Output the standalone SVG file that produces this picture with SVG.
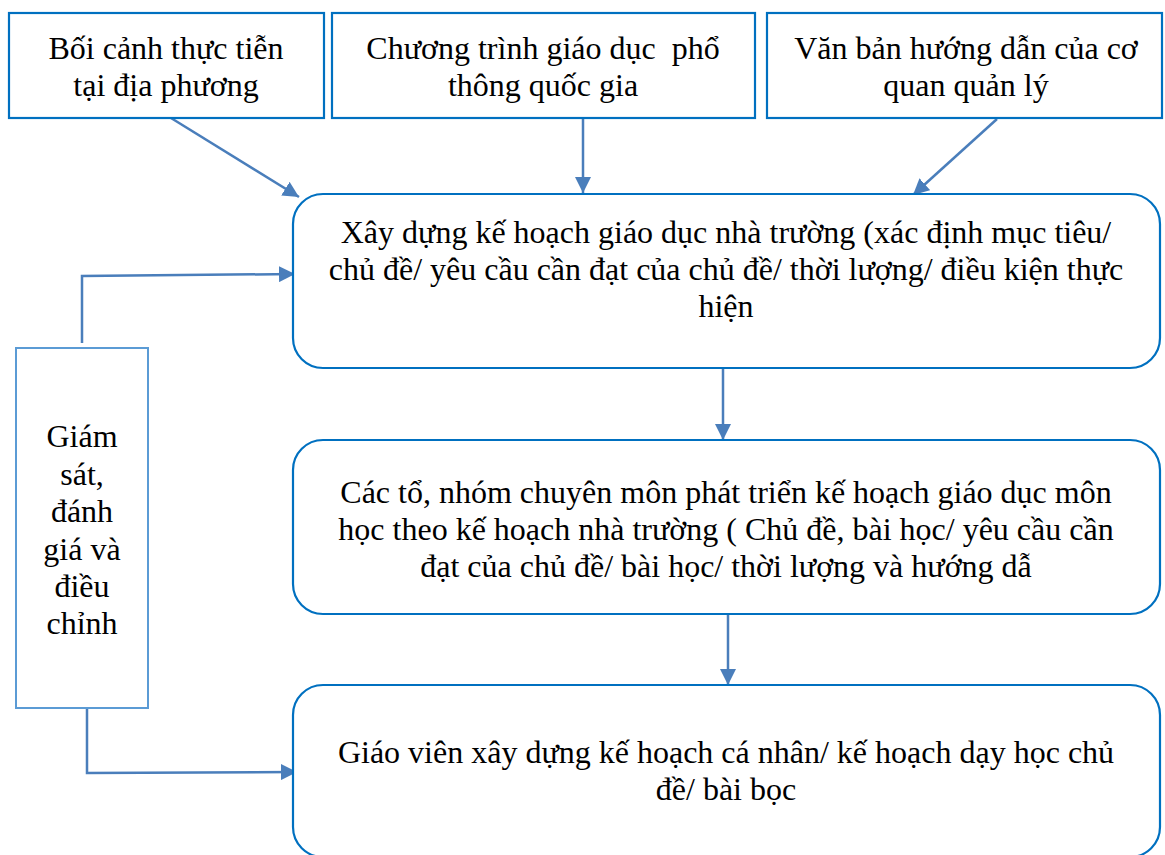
<svg xmlns="http://www.w3.org/2000/svg" width="1165" height="855" viewBox="0 0 1165 855">
  <style>
    .box { fill: #ffffff; stroke: #0070C0; stroke-width: 2.2; }
    .side { fill: #ffffff; stroke: #5B9BD5; stroke-width: 2; }
    .conn { fill: none; stroke: #4A7EBB; stroke-width: 2.5; }
    text { font-family: "Liberation Serif", "Times New Roman", serif; font-size: 32px; fill: #000000; text-anchor: middle; }
  </style>
  <defs>
    <marker id="arrow" markerUnits="userSpaceOnUse" markerWidth="18" markerHeight="16" refX="16" refY="8" orient="auto">
      <path d="M0,0 L16,8 L0,16 Z" fill="#4A7EBB"/>
    </marker>
  </defs>
  <rect x="0" y="0" width="1165" height="855" fill="#ffffff"/>

  <g id="connectors">
    <line class="conn" x1="171" y1="118" x2="299" y2="197" marker-end="url(#arrow)"/>
    <line class="conn" x1="583" y1="118" x2="583" y2="193" marker-end="url(#arrow)"/>
    <line class="conn" x1="997" y1="119" x2="913" y2="195" marker-end="url(#arrow)"/>
    <line class="conn" x1="723" y1="368" x2="723" y2="440" marker-end="url(#arrow)"/>
    <line class="conn" x1="728" y1="614" x2="728" y2="685" marker-end="url(#arrow)"/>
    <polyline class="conn" points="82,343 82,276 295,274" marker-end="url(#arrow)"/>
    <polyline class="conn" points="87,708 87,773 297,772" marker-end="url(#arrow)"/>
  </g>

  <g id="context">
    <rect class="box" x="9" y="13" width="315" height="105"/>
    <text x="166" y="59">Bối cảnh thực tiễn</text>
    <text x="166" y="96">tại địa phương</text>
  </g>

  <g id="national-curriculum">
    <rect class="box" x="332" y="13" width="423" height="105"/>
    <text x="543" y="59" xml:space="preserve">Chương trình giáo dục  phổ</text>
    <text x="543" y="96">thông quốc gia</text>
  </g>

  <g id="guidance">
    <rect class="box" x="767" y="13" width="395" height="105"/>
    <text x="966" y="59">Văn bản hướng dẫn của cơ</text>
    <text x="966" y="96">quan quản lý</text>
  </g>

  <g id="school-plan">
    <rect class="box" x="293" y="194" width="867" height="174" rx="30" ry="30"/>
    <text x="726" y="243">Xây dựng kế hoạch giáo dục nhà trường (xác định mục tiêu/</text>
    <text x="726" y="280">chủ đề/ yêu cầu cần đạt của chủ đề/ thời lượng/ điều kiện thực</text>
    <text x="726" y="317">hiện</text>
  </g>

  <g id="subject-plan">
    <rect class="box" x="293" y="440" width="867" height="174" rx="30" ry="30"/>
    <text x="726" y="503">Các tổ, nhóm chuyên môn phát triển kế hoạch giáo dục môn</text>
    <text x="726" y="540">học theo kế hoạch nhà trường ( Chủ đề, bài học/ yêu cầu cần</text>
    <text x="726" y="577">đạt của chủ đề/ bài học/ thời lượng và hướng dẫ</text>
  </g>

  <g id="teacher-plan">
    <rect class="box" x="293" y="685" width="867" height="172" rx="30" ry="30"/>
    <text x="726" y="763">Giáo viên xây dựng kế hoạch cá nhân/ kế hoạch dạy học chủ</text>
    <text x="726" y="800">đề/ bài bọc</text>
  </g>

  <g id="monitoring">
    <rect class="side" x="16" y="348" width="132" height="360"/>
    <text x="82" y="447">Giám</text>
    <text x="82" y="485">sát,</text>
    <text x="82" y="522">đánh</text>
    <text x="82" y="560">giá và</text>
    <text x="82" y="597">điều</text>
    <text x="82" y="634">chỉnh</text>
  </g>
</svg>
